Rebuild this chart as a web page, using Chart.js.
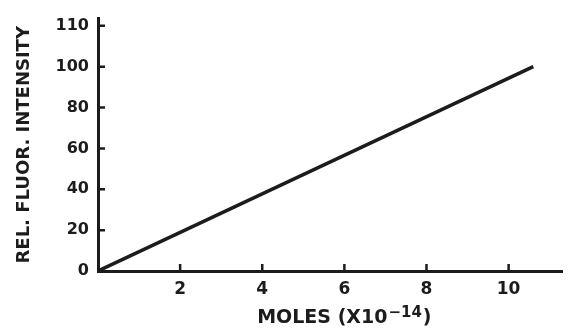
<!DOCTYPE html>
<html>
<head>
<meta charset="utf-8">
<script src="https://cdn.jsdelivr.net/npm/chart.js@4.4.1/dist/chart.umd.min.js"></script>
<style>
  html, body { margin: 0; padding: 0; background: #ffffff; }
  #wrap { width: 568px; height: 330px; }
</style>
</head>
<body>
<div id="wrap"><canvas id="c" width="568" height="330"></canvas></div>
<script>
// Calibration line: relative fluorescence vs. amount (moles x 1e-14)
const molesX = [0, 10.6];
const intensity = [0, 100];

// Axis ticks
const xTickValues = [2, 4, 6, 8, 10];
const yTickValues = [0, 20, 40, 60, 80, 100, 120];
const yTickLabels = ['0', '20', '40', '60', '80', '100', '110'];

const xTitleMain = 'MOLES (X10';
const xTitleSup = '\u221214';
const xTitleEnd = ')';
const yTitle = 'REL. FLUOR. INTENSITY';

const INK = '#1c1c1c';
const FONT = 'DejaVu Sans';

// short inward tick marks and the x-axis title with its exponent
const axisDecor = {
  id: 'axisDecor',
  afterDraw(chart) {
    const { ctx, chartArea, scales } = chart;
    const xs = scales.x, ys = scales.y;
    ctx.save();
    ctx.strokeStyle = INK;
    ctx.lineWidth = 2.5;
    ctx.beginPath();
    yTickValues.forEach(v => {
      const py = ys.getPixelForValue(v);
      ctx.moveTo(chartArea.left, py);
      ctx.lineTo(chartArea.left + 7, py);
    });
    xTickValues.forEach(v => {
      const px = xs.getPixelForValue(v);
      ctx.moveTo(px, chartArea.bottom);
      ctx.lineTo(px, chartArea.bottom - 7);
    });
    ctx.stroke();

    // title centred under the labelled ticks
    const mainFont = 'bold 19px "' + FONT + '"';
    const supFont = 'bold 15px "' + FONT + '"';
    ctx.fillStyle = INK;
    ctx.textBaseline = 'alphabetic';
    ctx.textAlign = 'left';
    ctx.font = mainFont;
    const w1 = ctx.measureText(xTitleMain).width;
    const w3 = ctx.measureText(xTitleEnd).width;
    ctx.font = supFont;
    const w2 = ctx.measureText(xTitleSup).width;
    const total = w1 + w2 + w3 + 2;
    const cx = (xs.getPixelForValue(xTickValues[0]) + xs.getPixelForValue(xTickValues[xTickValues.length - 1])) / 2;
    let x = cx - total / 2;
    const base = chart.height - 7;
    ctx.font = mainFont;
    ctx.fillText(xTitleMain, x, base);
    x += w1 + 1;
    ctx.font = supFont;
    ctx.fillText(xTitleSup, x, base - 6);
    x += w2 + 1;
    ctx.font = mainFont;
    ctx.fillText(xTitleEnd, x, base);
    ctx.restore();
  }
};

new Chart(document.getElementById('c'), {
  type: 'scatter',
  data: {
    datasets: [{
      data: molesX.map((m, i) => ({ x: m, y: intensity[i] })),
      showLine: true,
      borderColor: INK,
      borderWidth: 3.5,
      pointRadius: 0,
      fill: false
    }]
  },
  options: {
    responsive: false,
    animation: false,
    layout: { padding: { left: 0, top: 13, right: 6, bottom: 0 } },
    plugins: { legend: { display: false }, tooltip: { enabled: false } },
    scales: {
      x: {
        type: 'linear',
        min: 0,
        max: 11.3,
        afterFit(s) { s.height = 59; },
        afterBuildTicks(s) { s.ticks = xTickValues.map(v => ({ value: v })); },
        grid: { display: false, drawTicks: false },
        border: { display: true, color: INK, width: 3 },
        ticks: {
          padding: 8,
          color: INK,
          font: { family: FONT, size: 17, weight: 'bold' },
          maxRotation: 0,
          autoSkip: false
        }
      },
      y: {
        type: 'linear',
        min: 0,
        max: 123.5,
        afterFit(s) { s.width = 98; },
        afterBuildTicks(s) { s.ticks = yTickValues.map(v => ({ value: v })); },
        grid: { display: false, drawTicks: false },
        border: { display: true, color: INK, width: 3 },
        ticks: {
          padding: 9,
          color: INK,
          font: { family: FONT, size: 16, weight: 'bold' },
          autoSkip: false,
          callback: (v) => yTickLabels[yTickValues.indexOf(v)]
        },
        title: {
          display: true,
          text: yTitle,
          color: INK,
          font: { family: FONT, size: 18, weight: 'bold' },
          padding: { top: 14, bottom: 0 }
        }
      }
    }
  },
  plugins: [axisDecor]
});
</script>
</body>
</html>
